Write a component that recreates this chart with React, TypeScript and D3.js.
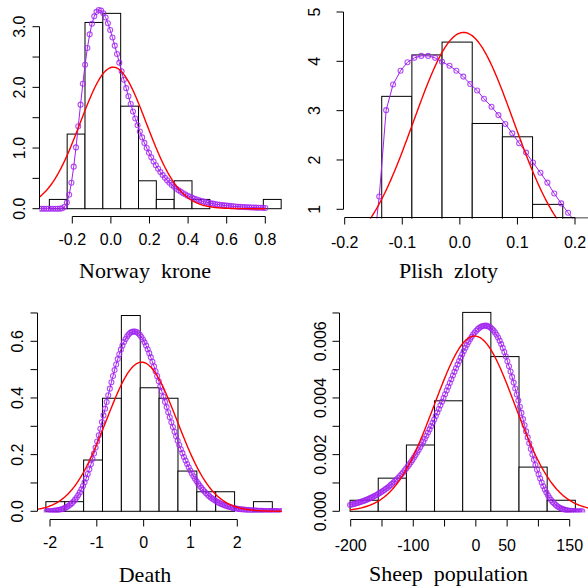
import React from "react";
import * as d3 from "d3";

// ---------------- Norway krone ----------------
const norwayBreaks = [-0.319, -0.2266, -0.1342, -0.0418, 0.0506, 0.143, 0.2354, 0.3278, 0.4202, 0.5126, 0.605, 0.6974, 0.7898, 0.8822];
const norwayDensity = [0.153, 1.23, 3.07, 3.22, 1.69, 0.46, 0.153, 0.46, 0.153, 0, 0, 0, 0.153];
const norwayNormal = [0.012, 0.171]; // mean, sd of fitted normal
const norwayFit = [-0.3, -1.218, 0.457, 1]; // shift, meanlog, sdlog, direction
const norwayFitRange = [-0.37, 0.8, 100];
const norwayXTicks = [-0.2, 0, 0.2, 0.4, 0.6, 0.8];
const norwayYTicks = [0, 0.5, 1, 1.5, 2, 2.5, 3];
const norwayYLabels = [0, 1, 2, 3];

// ---------------- Plish zloty ----------------
const plishBreaks = [-0.1357, -0.0833, -0.0309, 0.0215, 0.0739, 0.1263, 0.1787, 0.2311];
const plishDensity = [3.29, 4.13, 4.39, 2.74, 2.47, 1.1, 0.823];
const plishNormal = [0.0065, 0.087];
const plishFitX = [-0.152, -0.14, -0.128, -0.116, -0.103, -0.091, -0.079, -0.067, -0.055, -0.043, -0.031, -0.018, -0.006, 0.006, 0.018, 0.03, 0.042, 0.055, 0.067, 0.079, 0.091, 0.103, 0.115, 0.127, 0.14, 0.152, 0.164, 0.176, 0.188, 0.2];
const plishFitY = [0, 1.26, 3.01, 3.53, 3.81, 3.98, 4.07, 4.11, 4.11, 4.07, 3.99, 3.91, 3.81, 3.69, 3.54, 3.41, 3.24, 3.08, 2.91, 2.73, 2.54, 2.34, 2.15, 1.95, 1.74, 1.54, 1.32, 1.12, 0.93, 0.75];
const plishXTicks = [-0.2, -0.1, 0, 0.1, 0.2];
const plishYTicks = [1, 2, 3, 4, 5];
const plishYLabels = [1, 2, 3, 4, 5];

// ---------------- Death ----------------
const deathBreaks = [-2.088, -1.685, -1.282, -0.879, -0.476, -0.073, 0.33, 0.733, 1.136, 1.539, 1.942, 2.345, 2.748];
const deathDensity = [0.034, 0.034, 0.181, 0.399, 0.691, 0.436, 0.399, 0.142, 0.069, 0.069, 0, 0.034];
const deathNormal = [-0.043, 0.758];
const deathFit = [-5, 1.5841, 0.13, 1];
const deathFitRange = [-2.07, 2.95, 150];
const deathXTicks = [-2, -1, 0, 1, 2];
const deathYTicks = [0, 0.1, 0.2, 0.3, 0.4, 0.5, 0.6, 0.7];
const deathYLabels = [0, 0.2, 0.4, 0.6];

// ---------------- Sheep population ----------------
const sheepBreaks = [-201, -156, -111, -66, -21, 24, 69, 114, 159];
const sheepDensity = [0.00039, 0.00117, 0.00234, 0.0039, 0.00702, 0.00546, 0.00156, 0.00039];
const sheepNormal = [-2, 64.5];
const sheepFit = [250, 5.5226, 0.251, -1];
const sheepFitRange = [-201, 170, 150];
const sheepXTicks = [-200, -150, -100, -50, 0, 50, 100, 150];
const sheepXLabels = [-200, -100, 0, 50, 150];
const sheepYTicks = [0, 0.001, 0.002, 0.003, 0.004, 0.005, 0.006, 0.007];
const sheepYLabels = [0, 0.002, 0.004, 0.006];

const titles = ["Norway  krone", "Plish  zloty", "Death", "Sheep  population"];

// ---------------- helpers ----------------
const SQ2PI = Math.sqrt(2 * Math.PI);
const dnorm = (v: number, m: number, s: number) => Math.exp(-0.5 * ((v - m) / s) ** 2) / (s * SQ2PI);
const dshiftlnorm = (v: number, p: number[]) => {
  const [c, mu, sg, dir] = p;
  const t = dir > 0 ? v - c : c - v;
  if (t <= 0) return 0;
  return Math.exp(-0.5 * ((Math.log(t) - mu) / sg) ** 2) / (t * sg * SQ2PI);
};
const grid = (a: number, b: number, n: number) => d3.range(n).map((i) => a + ((b - a) * i) / (n - 1));

const PURPLE = "#a020f0";
const SANS = "'Liberation Sans', Arial, sans-serif";
const SERIF = "'Liberation Serif', 'Times New Roman', serif";

type PanelCfg = {
  id: string;
  ox: number;
  oy: number;
  xDom: number[];
  xPx: number[];
  yDom: number[];
  yPx: number[];
  axisX: number;
  axisY: number;
  clip: number[];
  breaks: number[];
  density: number[];
  normal: number[];
  normalRange: number[];
  purple: [number, number][];
  xTicks: number[];
  xLabels: number[];
  xFmt: (v: number) => string;
  xLabelBase: number;
  yTicks: number[];
  yLabels: number[];
  yFmt: (v: number) => string;
  yLabelBase: number;
  title: string;
  titleX: number;
  titleY: number;
};

function Panel({ p }: { p: PanelCfg }) {
  const x = d3.scaleLinear().domain(p.xDom).range(p.xPx);
  const y = d3.scaleLinear().domain(p.yDom).range(p.yPx);
  const clipId = "clip-" + p.id;
  const redPts = grid(p.normalRange[0], p.normalRange[1], 300).map((v) => [v, dnorm(v, p.normal[0], p.normal[1])] as [number, number]);
  const line = d3
    .line<[number, number]>()
    .x((d) => x(d[0]))
    .y((d) => y(d[1]));
  const bars = p.density.map((d, i) => ({ x0: p.breaks[i], x1: p.breaks[i + 1], h: d }));
  const tickLen = 7;
  return (
    <g transform={`translate(${p.ox},${p.oy})`}>
      <defs>
        <clipPath id={clipId}>
          <rect x={p.clip[0]} y={p.clip[1]} width={p.clip[2] - p.clip[0]} height={p.clip[3] - p.clip[1]} />
        </clipPath>
      </defs>
      <g clipPath={`url(#${clipId})`}>
        {bars.map((b, i) => (
          <rect
            key={i}
            x={x(b.x0)}
            y={y(b.h)}
            width={x(b.x1) - x(b.x0)}
            height={Math.max(0, y(0) - y(b.h))}
            fill="white"
            stroke="black"
            strokeWidth={1}
          />
        ))}
        <path d={line(p.purple) || ""} fill="none" stroke={PURPLE} strokeWidth={1} />
        {p.purple.map((d, i) => (
          <circle key={i} cx={x(d[0])} cy={y(d[1])} r={2.5} fill="none" stroke={PURPLE} strokeOpacity={0.8} strokeWidth={1.1} />
        ))}
        <path d={line(redPts) || ""} fill="none" stroke="#ff0000" strokeWidth={1.4} />
      </g>
      <line x1={p.axisX} x2={p.axisX} y1={y(p.yTicks[0])} y2={y(p.yTicks[p.yTicks.length - 1])} stroke="black" />
      {p.yTicks.map((t, i) => (
        <line key={i} x1={p.axisX} x2={p.axisX - tickLen} y1={y(t)} y2={y(t)} stroke="black" />
      ))}
      {p.yLabels.map((t, i) => (
        <text
          key={i}
          transform={`translate(${p.yLabelBase},${y(t)}) rotate(-90)`}
          textAnchor="middle"
          fontFamily={SANS}
          fontSize={16}
          fill="black"
        >
          {p.yFmt(t)}
        </text>
      ))}
      <line x1={x(p.xTicks[0])} x2={x(p.xTicks[p.xTicks.length - 1])} y1={p.axisY} y2={p.axisY} stroke="black" />
      {p.xTicks.map((t, i) => (
        <line key={i} x1={x(t)} x2={x(t)} y1={p.axisY} y2={p.axisY + tickLen} stroke="black" />
      ))}
      {p.xLabels.map((t, i) => (
        <text key={i} x={x(t)} y={p.xLabelBase} textAnchor="middle" fontFamily={SANS} fontSize={16} fill="black">
          {p.xFmt(t)}
        </text>
      ))}
      <text x={p.titleX} y={p.titleY} textAnchor="middle" fontFamily={SERIF} fontSize={22} fill="black" style={{ whiteSpace: "pre" }}>
        {p.title}
      </text>
    </g>
  );
}

const f1 = d3.format(".1f");
const f3 = d3.format(".3f");
const fint = (v: number) => d3.format("d")(v).replace("−", "-");
const fmt1 = (v: number) => f1(v).replace("−", "-");

const norwayPurple = grid(norwayFitRange[0], norwayFitRange[1], norwayFitRange[2]).map(
  (v) => [v, dshiftlnorm(v, norwayFit)] as [number, number]
);
const deathPurple = grid(deathFitRange[0], deathFitRange[1], deathFitRange[2]).map(
  (v) => [v, dshiftlnorm(v, deathFit)] as [number, number]
);
const sheepPurple = grid(sheepFitRange[0], sheepFitRange[1], sheepFitRange[2]).map(
  (v) => [v, dshiftlnorm(v, sheepFit)] as [number, number]
);
const plishPurple = plishFitX.map((v, i) => [v, plishFitY[i]] as [number, number]);

const panels: PanelCfg[] = [
  {
    id: "norway", ox: 0, oy: 0,
    xDom: [-0.2, 0.8], xPx: [72.3, 265.3], yDom: [0, 3], yPx: [208.7, 26.7],
    axisX: 39.5, axisY: 216.5, clip: [39.5, 0, 294, 217.5],
    breaks: norwayBreaks, density: norwayDensity, normal: norwayNormal, normalRange: [-0.372, 0.8],
    purple: norwayPurple,
    xTicks: norwayXTicks, xLabels: norwayXTicks, xFmt: fmt1, xLabelBase: 245,
    yTicks: norwayYTicks, yLabels: norwayYLabels, yFmt: fmt1, yLabelBase: 25,
    title: titles[0], titleX: 145, titleY: 278,
  },
  {
    id: "plish", ox: 294, oy: 0,
    xDom: [-0.2, 0.2], xPx: [50.7, 281], yDom: [1, 5], yPx: [209.3, 12],
    axisX: 49.5, axisY: 217.5, clip: [49.5, 0, 294, 218.6],
    breaks: plishBreaks, density: plishDensity, normal: plishNormal, normalRange: [-0.2, 0.25],
    purple: plishPurple,
    xTicks: plishXTicks, xLabels: plishXTicks, xFmt: fmt1, xLabelBase: 248,
    yTicks: plishYTicks, yLabels: plishYLabels, yFmt: fint, yLabelBase: 26,
    title: titles[1], titleX: 154.5, titleY: 278,
  },
  {
    id: "death", ox: 0, oy: 293,
    xDom: [-2, 2], xPx: [50, 237.3], yDom: [0, 0.6], yPx: [218.3, 48.3],
    axisX: 37.5, axisY: 226.5, clip: [37.5, 0, 282, 219.5],
    breaks: deathBreaks, density: deathDensity, normal: deathNormal, normalRange: [-2.26, 2.95],
    purple: deathPurple,
    xTicks: deathXTicks, xLabels: deathXTicks, xFmt: fint, xLabelBase: 255,
    yTicks: deathYTicks, yLabels: deathYLabels, yFmt: fmt1, yLabelBase: 23.3,
    title: titles[2], titleX: 145, titleY: 289,
  },
  {
    id: "sheep", ox: 294, oy: 293,
    xDom: [-200, 150], xPx: [56.7, 275.7], yDom: [0, 0.006], yPx: [218.3, 48.3],
    axisX: 45.5, axisY: 226.5, clip: [45.5, 0, 294, 219.5],
    breaks: sheepBreaks, density: sheepDensity, normal: sheepNormal, normalRange: [-201, 185],
    purple: sheepPurple,
    xTicks: sheepXTicks, xLabels: sheepXLabels, xFmt: fint, xLabelBase: 258,
    yTicks: sheepYTicks, yLabels: sheepYLabels, yFmt: f3, yLabelBase: 31.5,
    title: titles[3], titleX: 154.5, titleY: 288,
  },
];

export default function App() {
  return (
    <svg width={588} height={586} viewBox="0 0 588 586" style={{ position: "absolute", left: 0, top: 0, background: "white" }}>
      <rect x={0} y={0} width={588} height={586} fill="white" />
      {panels.map((p) => (
        <Panel key={p.id} p={p} />
      ))}
    </svg>
  );
}
